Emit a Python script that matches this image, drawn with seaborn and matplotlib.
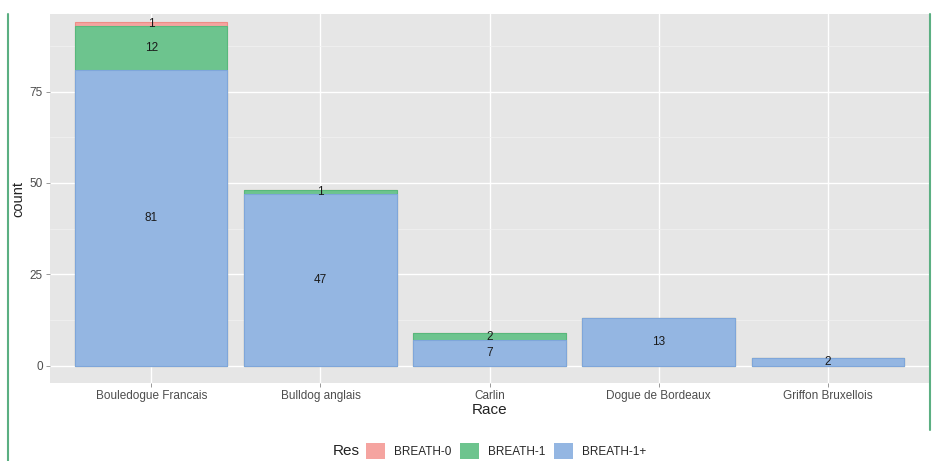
import numpy as np
import pandas as pd
import matplotlib
matplotlib.use("Agg")
import matplotlib.pyplot as plt
from matplotlib.patches import Patch
from matplotlib.lines import Line2D
import seaborn as sns

### data
races = ["Bouledogue Francais", "Bulldog anglais", "Carlin",
         "Dogue de Bordeaux", "Griffon Bruxellois"]
breath_0 = [1, 0, 0, 0, 0]
breath_1 = [12, 1, 2, 0, 0]
breath_1p = [81, 47, 7, 13, 2]
res_levels = ["BREATH-0", "BREATH-1", "BREATH-1+"]

colors = {"BREATH-0": "#F5A4A0", "BREATH-1": "#6DC48E", "BREATH-1+": "#94B6E2"}
edges = {"BREATH-0": "#EE8C86", "BREATH-1": "#58B87C", "BREATH-1+": "#7FA6DA"}

df = pd.DataFrame({"Race": races, "BREATH-0": breath_0,
                   "BREATH-1": breath_1, "BREATH-1+": breath_1p})
# stacked tops, BREATH-1+ at the bottom like ggplot
df["top_1p"] = df["BREATH-1+"]
df["top_1"] = df["top_1p"] + df["BREATH-1"]
df["top_0"] = df["top_1"] + df["BREATH-0"]

sns.set_theme(style="darkgrid")
plt.rcParams["font.family"] = ["Liberation Sans", "DejaVu Sans"]

fig = plt.figure(figsize=(9.39, 4.61), dpi=100)
ax = fig.add_axes([50 / 939, 78 / 461, 879 / 939, 369 / 461])
ax.set_facecolor("#E6E6E6")

# draw tallest first so lower segments sit on top
for col, lvl in [("top_0", "BREATH-0"), ("top_1", "BREATH-1"), ("top_1p", "BREATH-1+")]:
    sns.barplot(data=df, x="Race", y=col, order=races, color=colors[lvl],
                width=0.9, edgecolor=edges[lvl], linewidth=0.8,
                saturation=1, ax=ax)

# segment labels centred in each piece
for i, row in df.iterrows():
    bottom = 0
    for lvl in ["BREATH-1+", "BREATH-1", "BREATH-0"]:
        v = row[lvl]
        if v > 0:
            ax.text(i, bottom + v / 2, str(v), ha="center", va="center",
                    fontsize=8.5, color="#1a1a1a")
        bottom += v

ax.set_xlim(-0.6, 4.6)
ax.set_ylim(-4.7, 96.2)
ax.set_yticks([0, 25, 50, 75])
ax.set_yticks([12.5, 37.5, 62.5, 87.5], minor=True)
ax.grid(which="major", color="white", linewidth=1.0)
ax.grid(which="minor", axis="y", color="#F2F2F2", linewidth=0.5)
ax.set_axisbelow(True)
for s in ax.spines.values():
    s.set_visible(False)

ax.tick_params(axis="both", which="major", length=3, width=0.6, color="#888888",
               labelsize=8.5, labelcolor="#4D4D4D", pad=2,
               bottom=True, left=True)
ax.tick_params(axis="y", which="minor", length=0)
ax.set_xlabel("Race", fontsize=11, color="#222222", labelpad=1)
ax.set_ylabel("count", fontsize=10.5, color="#222222", labelpad=3)

# legend along the bottom
fig.text(333 / 939, 1 - 451 / 461, "Res", fontsize=11, color="#222222",
         ha="left", va="center")
handles = [Patch(facecolor=colors[l], edgecolor="none", label=l) for l in res_levels]
fig.legend(handles=handles, loc="center left", bbox_to_anchor=(366 / 939, 1 - 451 / 461),
           ncol=3, frameon=False, fontsize=8.5, handlelength=1.6, handleheight=1.6,
           columnspacing=0.7, handletextpad=0.8, borderaxespad=0, borderpad=0)

# green screenshot border lines
fig.add_artist(Line2D([8 / 939, 8 / 939], [0, 1 - 14 / 461], transform=fig.transFigure,
                      color="#5BAF82", linewidth=1.5))
fig.add_artist(Line2D([930 / 939, 930 / 939], [1 - 430 / 461, 1 - 14 / 461],
                      transform=fig.transFigure, color="#5BAF82", linewidth=1.5))

fig.savefig("out.png", dpi=100)
